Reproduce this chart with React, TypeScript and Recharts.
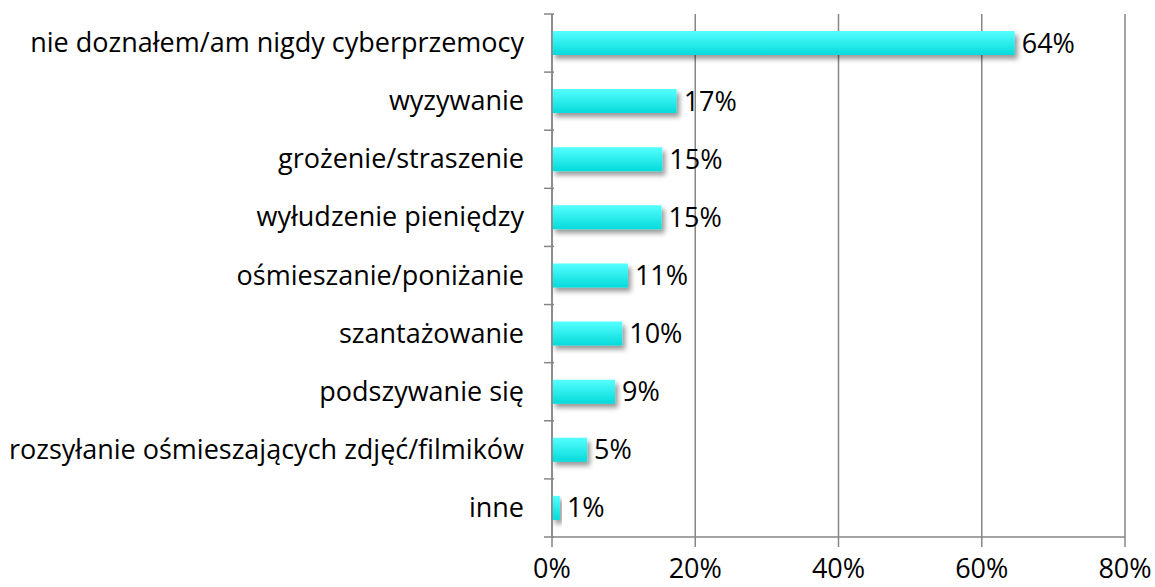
import React from 'react';
import { BarChart, Bar, XAxis, YAxis, CartesianGrid, LabelList } from 'recharts';

const categories = [
  'nie doznałem/am nigdy cyberprzemocy',
  'wyzywanie',
  'grożenie/straszenie',
  'wyłudzenie pieniędzy',
  'ośmieszanie/poniżanie',
  'szantażowanie',
  'podszywanie się',
  'rozsyłanie ośmieszających zdjęć/filmików',
  'inne',
];
const values = [64.6, 17.4, 15.4, 15.3, 10.6, 9.8, 8.8, 4.9, 1.1];
const valueLabels = ['64%', '17%', '15%', '15%', '11%', '10%', '9%', '5%', '1%'];
const xTicks = [0, 20, 40, 60, 80];

const data = categories.map((name, i) => ({ name, value: values[i], label: valueLabels[i] }));

const FONT = '"Open Sans", Lato, sans-serif';
const FONT_SIZE = 27;
const AXIS_COLOR = '#868686';
const TOP = 14;
const XAXIS_H = 50;
const HEIGHT = 587;
const BAND = (HEIGHT - TOP - XAXIS_H) / categories.length;

const YTick = (props: any) => {
  const { x, y, payload, index } = props;
  const axisX = x + 10;
  return (
    <g>
      <line x1={axisX - 10} x2={axisX} y1={y - BAND / 2} y2={y - BAND / 2} stroke={AXIS_COLOR} strokeWidth={1.5} />
      {index === categories.length - 1 && (
        <line x1={axisX - 10} x2={axisX} y1={y + BAND / 2} y2={y + BAND / 2} stroke={AXIS_COLOR} strokeWidth={1.5} />
      )}
      <text x={axisX - 30} y={y} dy={9} textAnchor="end" fontSize={FONT_SIZE} fill="#000" fontFamily={FONT}>
        {payload.value}
      </text>
    </g>
  );
};

const XTick = (props: any) => {
  const { x, y, payload } = props;
  return (
    <text x={x} y={y} dy={21} textAnchor="middle" fontSize={FONT_SIZE} fill="#000" fontFamily={FONT}>
      {`${payload.value}%`}
    </text>
  );
};

export default function App() {
  return (
    <div style={{ position: 'absolute', left: 0, top: 0, background: '#fff' }}>
      <BarChart
        width={1155}
        height={HEIGHT}
        data={data}
        layout="vertical"
        margin={{ top: TOP, right: 30, bottom: 0, left: 0 }}
        barCategoryGap={0}
      >
        <defs>
          <linearGradient id="cyanGrad" x1="0" y1="0" x2="0" y2="1">
            <stop offset="0%" stopColor="#55FFFF" />
            <stop offset="100%" stopColor="#05DADA" />
          </linearGradient>
          <filter id="shadow" x="-10%" y="-50%" width="130%" height="250%">
            <feDropShadow dx="3" dy="4" stdDeviation="2.5" floodColor="#000" floodOpacity="0.4" />
          </filter>
        </defs>
        <CartesianGrid horizontal={false} vertical stroke={AXIS_COLOR} strokeWidth={1.5} />
        <XAxis
          type="number"
          domain={[0, 80]}
          ticks={xTicks}
          axisLine={{ stroke: AXIS_COLOR, strokeWidth: 1.5 }}
          tickLine={{ stroke: AXIS_COLOR, strokeWidth: 1.5 }}
          tickSize={10}
          tickMargin={10}
          tick={<XTick />}
          height={XAXIS_H}
          interval={0}
        />
        <YAxis
          type="category"
          dataKey="name"
          width={552}
          axisLine={{ stroke: AXIS_COLOR, strokeWidth: 1.5 }}
          tickLine={false}
          tick={<YTick />}
          interval={0}
        />
        <Bar
          dataKey="value"
          fill="url(#cyanGrad)"
          barSize={24}
          filter="url(#shadow)"
          isAnimationActive={false}
        >
          <LabelList
            dataKey="label"
            position="right"
            offset={7}
            style={{ fontSize: FONT_SIZE, fill: '#000', fontFamily: FONT }}
          />
        </Bar>
      </BarChart>
    </div>
  );
}
